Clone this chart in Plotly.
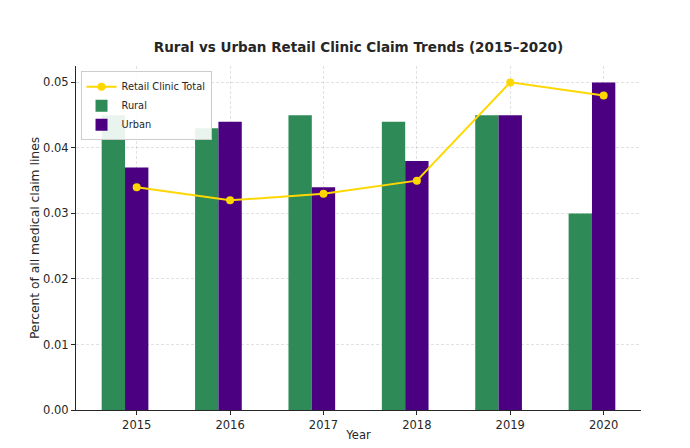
import plotly.graph_objects as go

years = [2015, 2016, 2017, 2018, 2019, 2020]
rural = [0.045, 0.043, 0.045, 0.044, 0.045, 0.030]
urban = [0.037, 0.044, 0.034, 0.038, 0.045, 0.050]
total = [0.034, 0.032, 0.033, 0.035, 0.050, 0.048]
y_ticks = [0.00, 0.01, 0.02, 0.03, 0.04, 0.05]

FONT = "DejaVu Sans"
fig = go.Figure()
fig.add_trace(go.Bar(x=years, y=rural, name="Rural", width=0.25, offset=-0.375,
                     marker=dict(color="#2E8B57", line=dict(width=0)), legendrank=2))
fig.add_trace(go.Bar(x=years, y=urban, name="Urban", width=0.25, offset=-0.125,
                     marker=dict(color="#4B0082", line=dict(width=0)), legendrank=3))
fig.add_trace(go.Scatter(x=years, y=total, name="Retail Clinic Total", mode="lines+markers",
                         line=dict(color="#FFD700", width=2),
                         marker=dict(color="#FFD700", size=8), legendrank=1))

fig.update_layout(
    width=690, height=448,
    margin=dict(l=76, r=49, t=66, b=38),
    paper_bgcolor="white", plot_bgcolor="white",
    barmode="overlay",
    font=dict(family=FONT, size=11, color="#262626"),
    title=dict(text="<b>Rural vs Urban Retail Clinic Claim Trends (2015–2020)</b>",
               x=(76 + 641) / 2 / 690, xanchor="center", y=1 - 47 / 448, yanchor="middle",
               font=dict(family=FONT, size=13.5, color="#262626")),
    legend=dict(x=0.008, y=0.985, xanchor="left", yanchor="top",
                bgcolor="rgba(255,255,255,0.9)", bordercolor="#cccccc", borderwidth=1,
                font=dict(family=FONT, size=9.8), tracegroupgap=0, itemwidth=30),
    showlegend=True,
)
grid = dict(showgrid=True, gridcolor="rgba(200,200,200,0.55)", griddash="3px,2px", gridwidth=0.7)
fig.update_xaxes(
    range=[2014.35, 2020.4], tickmode="array", tickvals=years, ticktext=[str(y) for y in years],
    showline=True, linecolor="#262626", linewidth=1, mirror=False,
    ticks="outside", ticklen=4, tickcolor="#262626",
    zeroline=False, layer="above traces", automargin=False,
    title=dict(text="Year", font=dict(family=FONT, size=11.5), standoff=0),
    tickfont=dict(family=FONT, size=11.5), **grid,
)
fig.update_yaxes(
    range=[0, 0.0525], tickmode="array", tickvals=y_ticks, ticktext=[f"{v:.2f}" for v in y_ticks],
    showline=True, linecolor="#262626", linewidth=1, mirror=False,
    ticks="outside", ticklen=4, tickcolor="#262626",
    zeroline=False, layer="above traces", automargin=False,
    title=dict(text="Percent of all medical claim lines", font=dict(family=FONT, size=12.3), standoff=0),
    tickfont=dict(family=FONT, size=11.5), **grid,
)

fig.write_html("out.html", config={"displayModeBar": False})
with open("out.html", encoding="utf-8") as f:
    html = f.read()
html = html.replace("<body>", '<body style="margin:0;padding:0;">', 1)
with open("out.html", "w", encoding="utf-8") as f:
    f.write(html)
